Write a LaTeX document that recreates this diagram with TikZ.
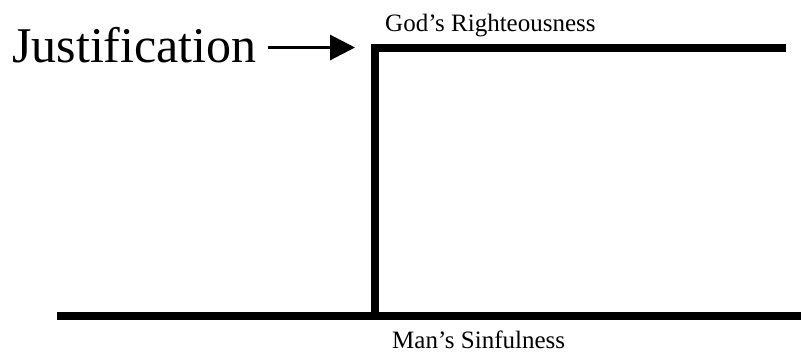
\documentclass[tikz,border=0pt]{standalone}
\usepackage{fontspec}
\setmainfont{Liberation Serif}
\usetikzlibrary{arrows.meta}
\tikzset{
  label/.style={inner sep=0pt,anchor=base west,font=\fontsize{25}{30}\selectfont},
  bigword/.style={inner sep=0pt,anchor=base west,font=\fontsize{50}{60}\selectfont},
  level/.style={line width=8pt,black,line join=miter},
  pointer/.style={-{Triangle[length=25pt,width=25pt]},line width=3pt,black}
}

\begin{document}
\begin{tikzpicture}[x=1pt,y=-1pt]
  \useasboundingbox (0,0) rectangle (801,360);
  % the two levels and the step between them
  \coordinate (baseL) at (57,316);
  \coordinate (baseR) at (801,316);
  \coordinate (stepB) at (375,316);
  \coordinate (stepT) at (375,47.5);
  \coordinate (topR)  at (786,47.5);
  \draw[level] (baseL)--(baseR);
  \draw[level] (stepB)--(stepT)--(topR);
  % labels
  \node[label] (god) at (385,31)  {God’s Righteousness};
  \node[label] (man) at (392,348) {Man’s Sinfulness};
  % pointer to the step
  \node[bigword] (just) at (12,62) {Justification};
  \coordinate (tip) at (355,47.5);
  \draw[pointer,shorten <=11pt] (just.east |- tip)--(tip);
\end{tikzpicture}
\end{document}
